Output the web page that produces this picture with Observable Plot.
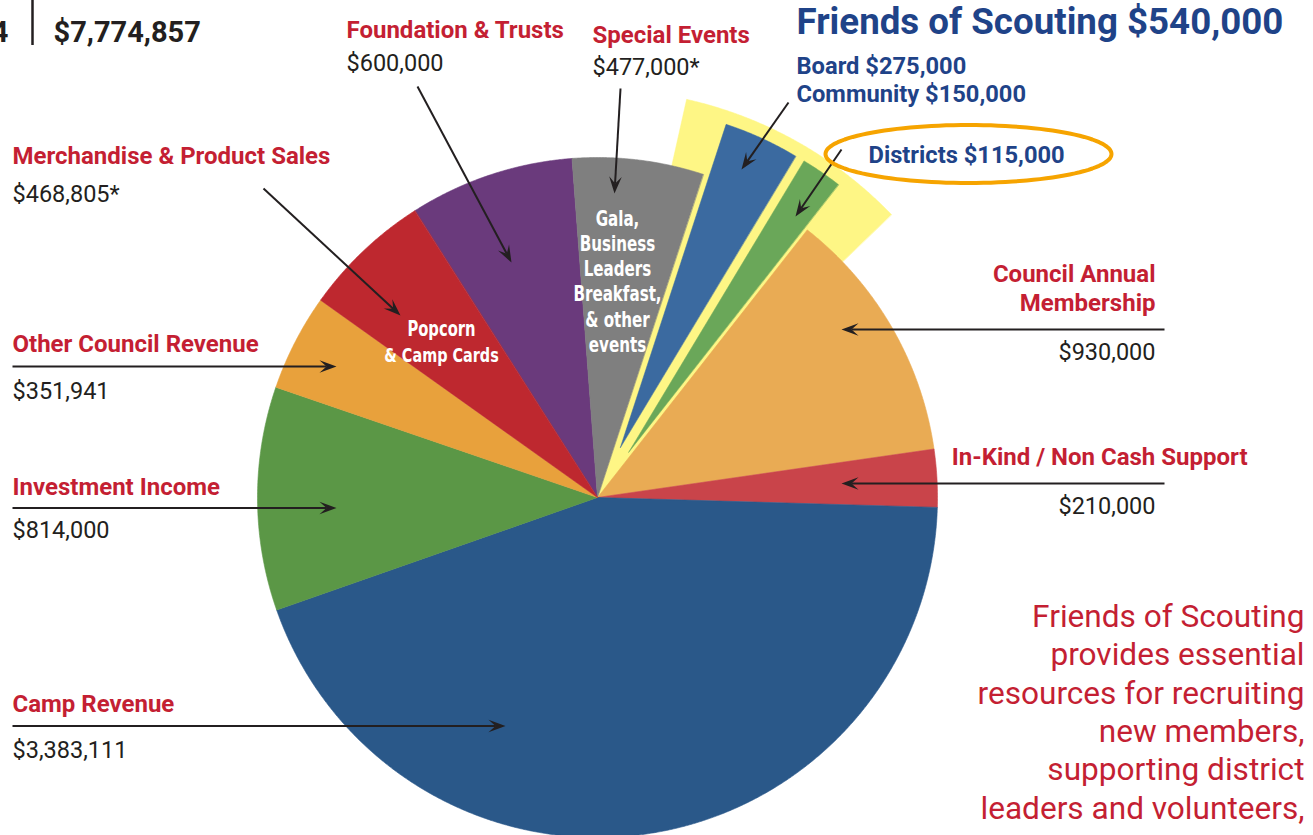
<!DOCTYPE html>
<html>
<head>
<meta charset="utf-8">
<script src="https://cdn.jsdelivr.net/npm/d3@7"></script>
<script src="https://cdn.jsdelivr.net/npm/@observablehq/plot@0.6"></script>
<style>
html,body{margin:0;padding:0;background:#fff;overflow:hidden;}
#chart{width:1313px;height:835px;overflow:hidden;}
#chart svg{display:block;}
</style>
</head>
<body>
<div id="chart"></div>
<script>
// ---------------- DATA ----------------
const sliceNames = ["Foundation & Trusts","Special Events","Board","Community","Council Annual Membership","In-Kind / Non Cash Support","Camp Revenue","Investment Income","Other Council Revenue","Merchandise & Product Sales"];
const sliceValues = [600000,477000,275000,150000,930000,210000,3383111,814000,351941,468805];
const sliceColors = ["#6a3a7c","#7f7f7f","#3b6aa0","#6aa759","#e9ab54","#c9444a","#2a5889","#5b9746","#e8a13c","#be282f"];
const asterisked = ["Special Events","Merchandise & Product Sales"];
const fosNames = ["Board","Community","Districts"];
const fosValues = [275000,150000,115000];
const explodedNames = ["Board","Community"];
const insideLabels = {"Merchandise & Product Sales":["Popcorn","& Camp Cards"],"Special Events":["Gala,","Business","Leaders","Breakfast,","& other","events"]};
const noteLines = ["Friends of Scouting","provides essential","resources for recruiting","new members,","supporting district","leaders and volunteers,"];
const headerNumber = "4";

// ---------------- LAYOUT ----------------
const W = 1313, H = 835;
const cx = 597, cy = 497, R = 340;
const deg = Math.PI/180;
const startAngle = -32.5*deg;
const explode = 55;
const RED = "#c41f33", INK = "#231f20", NAVY = "#1f4388";
const labelLayout = {
  "Foundation & Trusts":        {tx:346, ty:37,  vx:346, vy:70,  anchor:"start", arrow:[417,86,511,262]},
  "Special Events":             {tx:592, ty:42,  vx:592, vy:74,  anchor:"start", arrow:[620,88,614,193]},
  "Merchandise & Product Sales":{tx:12,  ty:163, vx:12,  vy:201.5, anchor:"start", arrow:[263,188,400,315]},
  "Other Council Revenue":      {tx:12,  ty:351.5, vx:12,  vy:398, anchor:"start", arrow:[12,366,336,366]},
  "Investment Income":          {tx:12,  ty:494, vx:12,  vy:537, anchor:"start", arrow:[12,507.5,336,507.5]},
  "Camp Revenue":               {tx:12,  ty:711.5, vx:12,  vy:757.5, anchor:"start", arrow:[12,725.5,505,725.5]},
  "Council Annual Membership":  {tx:1155,ty:310.5,vx:1155,vy:359, anchor:"end", arrow:[1164,329,841,329], lines:["Council Annual","Membership"]},
  "In-Kind / Non Cash Support": {tx:1247,ty:464, vx:1155,vy:513, anchor:"end", arrow:[1164,483,841,483]}
};
const fosArrows = [[788,102,741,169],[841,149,795,216]];

const fmt = d3.format("$,");
const total = d3.sum(sliceValues) + fosValues[2];

// pie geometry from values
const sliceData = sliceNames.map((name,i)=>({name, value:sliceValues[i], color:sliceColors[i]}));
const arcs = d3.pie().sort(null).value(d=>d.value).startAngle(startAngle).endAngle(startAngle+2*Math.PI)(sliceData);
const arcOf = n => arcs.find(a=>a.data.name===n);

function wedge(key,color,a0,a1,r,ox,oy){
  const pts=[{key,color,x:cx+ox,y:cy+oy}];
  const n=Math.max(2,Math.ceil((a1-a0)/(0.25*deg)));
  for(let k=0;k<=n;k++){const a=a0+(a1-a0)*k/n; pts.push({key,color,x:cx+ox+r*Math.sin(a),y:cy+oy-r*Math.cos(a)});}
  return pts;
}
const fosA0 = arcOf("Board").startAngle, fosA1 = arcOf("Community").endAngle;
const yellowPts = wedge("highlight","#fef685",fosA0-5.5*deg,fosA1+8*deg,408,0,0);
let mainPts=[], expPts=[];
for(const a of arcs){
  if(explodedNames.includes(a.data.name)){
    const m=(a.startAngle+a.endAngle)/2;
    expPts=expPts.concat(wedge(a.data.name,a.data.color,a.startAngle,a.endAngle,R,explode*Math.sin(m),-explode*Math.cos(m)));
  } else {
    mainPts=mainPts.concat(wedge(a.data.name,a.data.color,a.startAngle,a.endAngle,R,0,0));
  }
}

// arrows
const allArrows = Object.entries(labelLayout).map(([k,v])=>({key:k,a:v.arrow})).concat(fosArrows.map((a,i)=>({key:"fos"+i,a})));
const links=[], heads=[];
for(const {key,a} of allArrows){
  const [x1,y1,x2,y2]=a; const L=Math.hypot(x2-x1,y2-y1); const ux=(x2-x1)/L, uy=(y2-y1)/L; const nx=-uy, ny=ux;
  const hl=17, hw=6.3, notch=10;
  links.push({x1,y1,x2:x2-ux*notch,y2:y2-uy*notch});
  const bx=x2-ux*hl, by=y2-uy*hl;
  heads.push({key,x:x2,y:y2},{key,x:bx+nx*hw,y:by+ny*hw},{key,x:x2-ux*notch,y:y2-uy*notch},{key,x:bx-nx*hw,y:by-ny*hw});
}

// ellipse around Districts
const ell=[]; for(let k=0;k<120;k++){const t=k/120*2*Math.PI; ell.push({x:968+143*Math.cos(t), y:153.5+29*Math.sin(t)});}

// text items
const titlesStart=[], titlesEnd=[], valsStart=[], valsEnd=[];
for(const [name,v] of Object.entries(labelLayout)){
  const val = fmt(sliceValues[sliceNames.indexOf(name)]) + (asterisked.includes(name)?"*":"");
  const t = {text:(v.lines||[name]).join("\n"), x:v.tx, y:v.ty};
  (v.anchor==="start"?titlesStart:titlesEnd).push(t);
  (v.anchor==="start"?valsStart:valsEnd).push({text:val,x:v.vx,y:v.vy});
}
const inside=[];
{
  const m=insideLabels["Merchandise & Product Sales"];
  inside.push({text:m[0],x:441,y:335,fs:20.5},{text:m[1],x:441,y:361.5,fs:20});
  const g=insideLabels["Special Events"];
  g.forEach((s,i)=>inside.push({text:s,x:617,y:225+i*25.3,fs:21}));
}
const fosHeader=[{text:"Friends of Scouting "+fmt(d3.sum(fosValues)),x:796,y:33}];
const fosSub=[
  {text:fosNames[0]+" "+fmt(fosValues[0]),x:796,y:73.5},
  {text:fosNames[1]+" "+fmt(fosValues[1]),x:796,y:101.5},
  {text:fosNames[2]+" "+fmt(fosValues[2]),x:868,y:162.5}
];
const notes=noteLines.map((s,i)=>({text:s,x:1304,y:626.5+i*38.3}));

const F="Roboto, 'Noto Sans', sans-serif";
const COND="'DejaVu Sans Condensed','DejaVu Sans',sans-serif";
const T=(data,o)=>Plot.text(data,{x:"x",y:"y",text:"text",lineAnchor:"bottom",fontFamily:F,...o});

const chart = Plot.plot({
  width:W, height:H, margin:0,
  x:{domain:[0,W], range:[0,W], axis:null},
  y:{domain:[0,H], range:[0,H], axis:null},
  color:{type:"identity"},
  style:{background:"#fff", overflow:"hidden"},
  marks:[
    Plot.line(yellowPts,{x:"x",y:"y",z:"key",fill:"color",stroke:"color",strokeWidth:0.5,curve:"linear-closed"}),
    Plot.line(mainPts,{x:"x",y:"y",z:"key",fill:"color",stroke:"color",strokeWidth:0.6,curve:"linear-closed"}),
    Plot.line(expPts,{x:"x",y:"y",z:"key",fill:"color",stroke:"color",strokeWidth:0.5,curve:"linear-closed"}),
    // inside labels
    T(inside,{fill:"#fff",fontFamily:COND,fontWeight:700,fontSize:d=>d.fs,textAnchor:"middle"}),
    // arrows
    Plot.link(links,{x1:"x1",y1:"y1",x2:"x2",y2:"y2",stroke:INK,strokeWidth:2}),
    Plot.line(heads,{x:"x",y:"y",z:"key",fill:INK,stroke:"none",curve:"linear-closed"}),
    // ellipse
    Plot.line(ell,{x:"x",y:"y",stroke:"#f6a400",strokeWidth:4,fill:"none",curve:"linear-closed"}),
    // slice titles & values
    T(titlesStart,{fill:RED,fontWeight:700,fontSize:24,textAnchor:"start"}),
    T(titlesEnd,{fill:RED,fontWeight:700,fontSize:24,textAnchor:"end",lineHeight:1.19}),
    T(valsStart,{fill:INK,fontSize:23.5,textAnchor:"start"}),
    T(valsEnd,{fill:INK,fontSize:23.5,textAnchor:"end"}),
    // Friends of Scouting block
    T(fosHeader,{fill:NAVY,fontWeight:700,fontSize:36.7,textAnchor:"start"}),
    T(fosSub,{fill:NAVY,fontWeight:700,fontSize:23.7,textAnchor:"start"}),
    // note
    T(notes,{fill:RED,fontSize:31.6,textAnchor:"end"}),
    // header budget
    Plot.ruleX([32],{y1:0,y2:45,stroke:INK,strokeWidth:2.5}),
    T([{text:headerNumber,x:8,y:41}],{fill:INK,fontWeight:700,fontSize:29,textAnchor:"end"}),
    T([{text:fmt(total),x:53,y:41}],{fill:INK,fontWeight:700,fontSize:29,textAnchor:"start"})
  ]
});
document.getElementById("chart").appendChild(chart);
// condense the in-slice labels horizontally
d3.select(chart).selectAll('g[font-family*="Condensed"] text').each(function(){
  const w=this.getComputedTextLength();
  this.setAttribute("textLength", (w*0.8).toFixed(1));
  this.setAttribute("lengthAdjust","spacingAndGlyphs");
});
</script>
</body>
</html>
